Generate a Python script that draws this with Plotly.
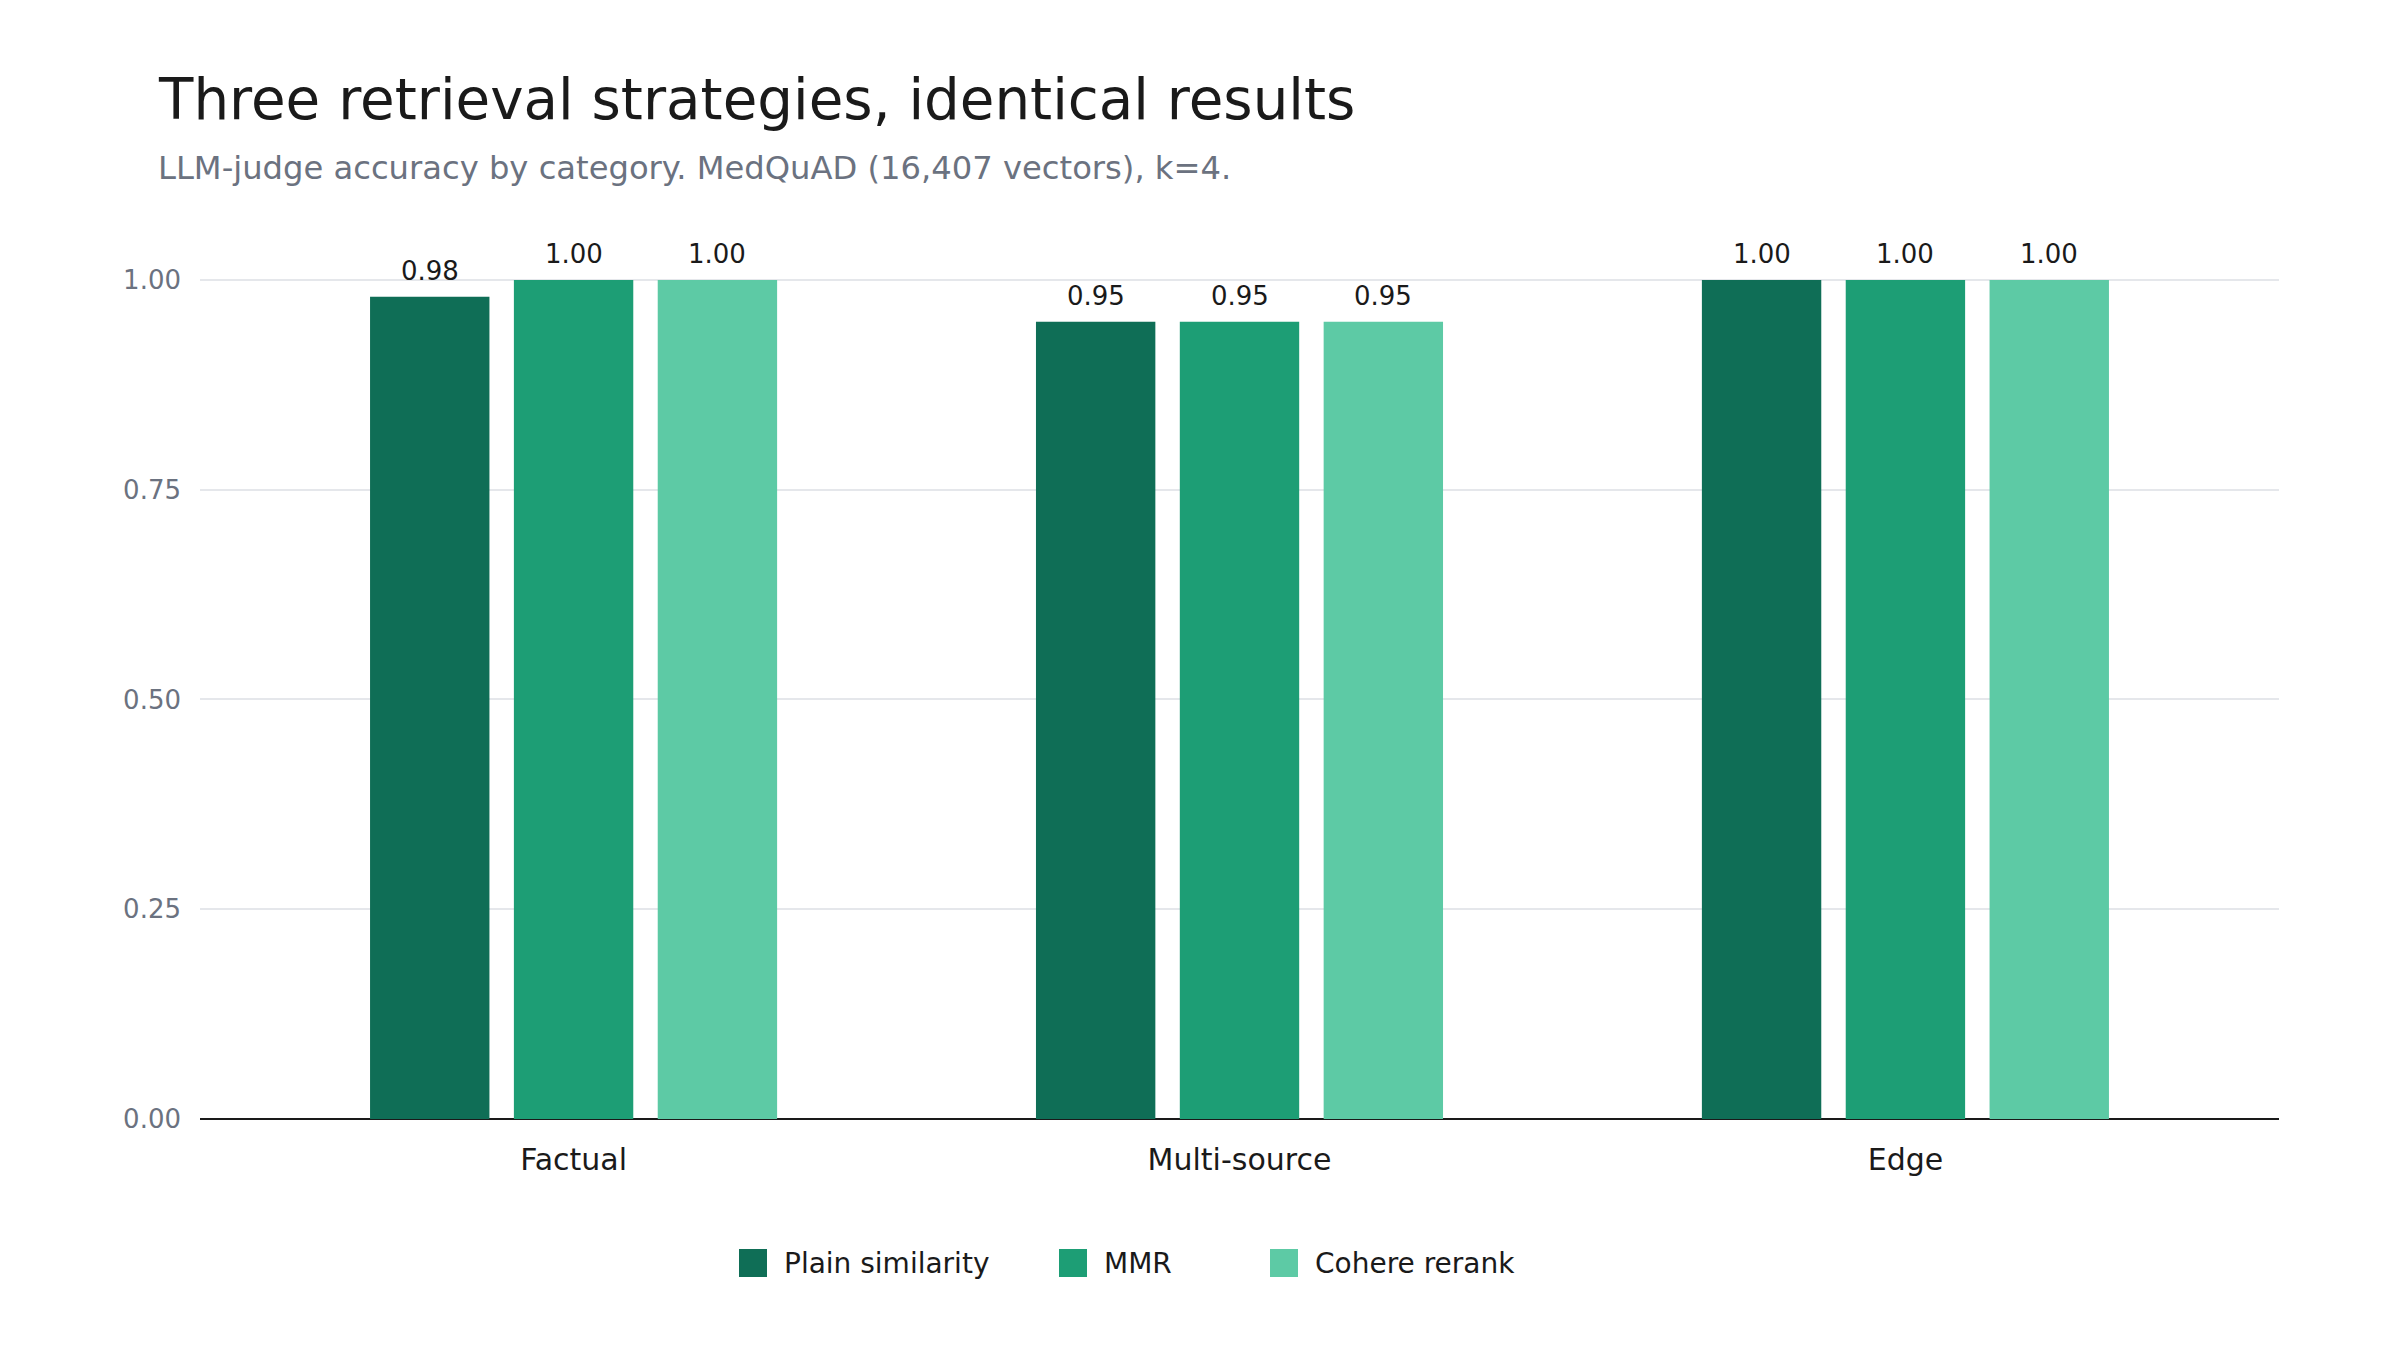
import plotly.graph_objects as go

categories = ["Factual", "Multi-source", "Edge"]
series_names = ["Plain similarity", "MMR", "Cohere rerank"]
plain_similarity = [0.98, 0.95, 1.00]
mmr = [1.00, 0.95, 1.00]
cohere_rerank = [1.00, 0.95, 1.00]
colors = ["#0f6e56", "#1d9e75", "#5dcaa5"]
y_ticks = [0.0, 0.25, 0.5, 0.75, 1.0]

title_text = "Three retrieval strategies, identical results"
subtitle_text = "LLM-judge accuracy by category. MedQuAD (16,407 vectors), k=4."

FONT = "DejaVu Sans"
W, H = 2400, 1350
ml, mr, mt, mb = 200, 121, 196, 231
pw, ph = W - ml - mr, H - mt - mb
BARGAP = 0.352
GROUPGAP = 0.17

def py(Y):
    return (H - mb - Y) / ph

def px(X):
    return (X - ml) / pw

all_series = [plain_similarity, mmr, cohere_rerank]
fig = go.Figure()
annotations = []
slot = (1 - BARGAP) / len(all_series)
for i, (name, vals, col) in enumerate(zip(series_names, all_series, colors)):
    fig.add_trace(go.Bar(
        name=name, x=categories, y=vals, marker=dict(color=col, line=dict(width=0)),
        showlegend=False,
    ))
    off = (i - (len(all_series) - 1) / 2) * slot
    for j, v in enumerate(vals):
        annotations.append(dict(
            text=f"{v:.2f}", xref="x", yref="y", x=j + off, y=v,
            xanchor="center", yanchor="middle", yshift=26, showarrow=False,
            font=dict(family=FONT, size=26, color="#1a1a1a")))

# legend (manual, for large square swatches)
legend_swatch_x = [739, 1059, 1270]
for name, col, sx in zip(series_names, colors, legend_swatch_x):
    fig.add_shape(type="rect", xref="paper", yref="paper",
                  x0=px(sx), x1=px(sx + 28), y0=py(1277), y1=py(1249),
                  fillcolor=col, line=dict(width=0))
    annotations.append(dict(text=name, xref="paper", yref="paper", x=px(sx + 43),
                            y=py(1263), xanchor="left", yanchor="middle", showarrow=False,
                            font=dict(family=FONT, size=28, color="#1a1a1a")))

annotations += [
    dict(text=title_text, xref="paper", yref="paper", x=px(156),
         y=py(99), xanchor="left", yanchor="middle", showarrow=False,
         font=dict(family=FONT, size=56.3, color="#1a1a1a")),
    dict(text=subtitle_text, xref="paper", yref="paper", x=px(156),
         y=py(168), xanchor="left", yanchor="middle", showarrow=False,
         font=dict(family=FONT, size=32.2, color="#6b7280")),
]

fig.update_layout(
    width=W, height=H,
    margin=dict(l=ml, r=mr, t=mt, b=mb),
    paper_bgcolor="white", plot_bgcolor="white",
    font=dict(family=FONT, color="#1a1a1a"),
    barmode="group", bargap=BARGAP, bargroupgap=GROUPGAP,
    showlegend=False,
    xaxis=dict(range=[-0.561, 2.561], showgrid=False, showline=False, zeroline=False,
               ticks="", tickfont=dict(family=FONT, size=30, color="#1a1a1a"),
               ticklabelstandoff=20),
    yaxis=dict(range=[0, 1.1], tickvals=y_ticks, tickformat=".2f",
               showgrid=True, gridcolor="#e5e7eb", gridwidth=2,
               zeroline=True, zerolinecolor="#1a1a1a", zerolinewidth=2,
               showline=False, ticks="",
               tickfont=dict(family=FONT, size=26, color="#6b7280"),
               ticklabelstandoff=18),
    annotations=annotations,
)

fig.write_html("out.html")
